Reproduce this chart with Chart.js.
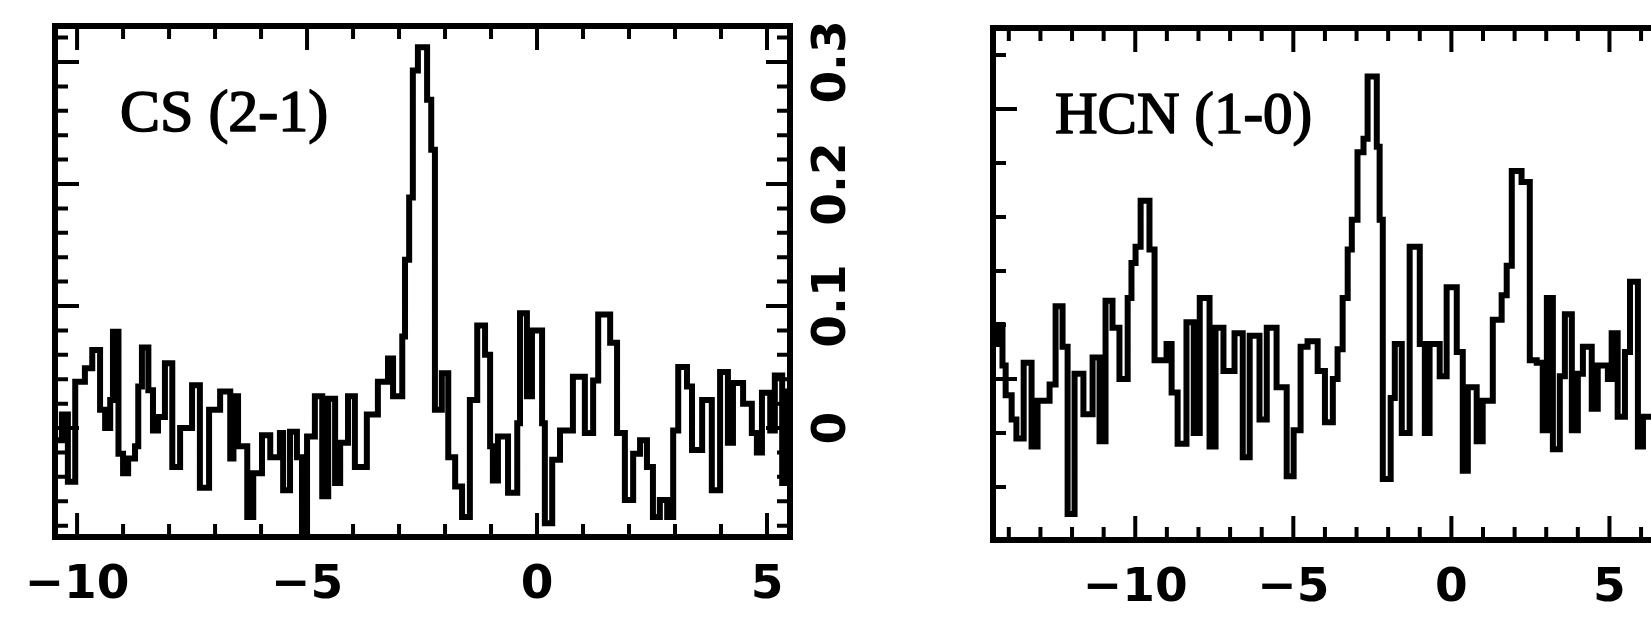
<!DOCTYPE html>
<html>
<head>
<meta charset="utf-8">
<title>CS (2-1) and HCN (1-0) spectra</title>
<script src="https://cdn.jsdelivr.net/npm/chart.js@4.4.1/dist/chart.umd.min.js"></script>
<style>
  html, body { margin: 0; padding: 0; background: #fff; overflow: hidden; }
  #wrap { position: relative; width: 1651px; height: 617px; overflow: hidden; background: #fff; }
  #wrap canvas { position: absolute; top: 0; }
  #cs { left: 0; }
  #hcn { left: 900px; }
</style>
</head>
<body>
<div id="wrap">
  <canvas id="cs" width="900" height="617"></canvas>
  <canvas id="hcn" width="920" height="617"></canvas>
</div>
<script>
// ---- CS (2-1): channel left edges (km/s) and line temperature (K) ----
const csName = 'CS (2-1)';
const csVelocity = [
  -10.48, -10.33, -10.20, -10.04, -9.83, -9.67, -9.50, -9.39, -9.28, -9.22,
  -9.10, -9.00, -8.89, -8.74, -8.67, -8.59, -8.45, -8.35, -8.24, -8.09,
  -7.93, -7.76, -7.50, -7.33, -7.13, -6.89, -6.67, -6.60, -6.50, -6.30,
  -6.17, -5.98, -5.80, -5.59, -5.52, -5.37, -5.22, -5.11, -5.00, -4.83,
  -4.67, -4.54, -4.39, -4.28, -4.11, -3.96, -3.70, -3.46, -3.24, -3.13,
  -2.93, -2.87, -2.78, -2.70, -2.59, -2.39, -2.30, -2.22, -2.07, -1.93,
  -1.78, -1.63, -1.46, -1.30, -1.13, -1.02, -0.96, -0.85, -0.63, -0.43,
  -0.37, -0.22, -0.11, 0.11, 0.17, 0.33, 0.50, 0.78, 1.04, 1.22,
  1.33, 1.59, 1.74, 1.91, 2.09, 2.24, 2.39, 2.52, 2.67, 2.83,
  2.96, 3.07, 3.26, 3.37, 3.59, 3.80, 3.98, 4.15, 4.26, 4.48,
  4.67, 4.78, 4.89, 5.07, 5.17, 5.33, 5.40, 5.46, 5.52
];
const csIntensity = [
  -0.010, 0.011, -0.044, 0.038, 0.049, 0.064, 0.015, 0.000, 0.023, 0.079,
  -0.021, -0.037, -0.025, -0.015, 0.034, 0.066, 0.031, -0.002, 0.009, 0.053,
  -0.032, 0.000, 0.035, -0.049, 0.015, 0.030, -0.025, 0.026, -0.015, -0.073,
  -0.037, -0.006, -0.024, -0.004, -0.051, -0.003, -0.024, -0.086, -0.007, 0.026,
  -0.056, 0.024, -0.045, -0.012, 0.026, -0.032, 0.011, 0.038, 0.057, 0.026,
  0.075, 0.138, 0.189, 0.293, 0.312, 0.269, 0.228, 0.015, 0.045, -0.024,
  -0.048, -0.073, 0.023, 0.084, 0.060, -0.015, -0.043, -0.007, -0.053, 0.004,
  0.094, 0.026, 0.080, 0.004, -0.078, -0.026, -0.002, 0.042, -0.004, 0.039,
  0.093, 0.070, -0.004, -0.059, -0.021, -0.010, -0.032, -0.073, -0.059, -0.073,
  -0.002, 0.050, 0.034, -0.018, 0.023, -0.051, 0.046, -0.012, 0.037, 0.020,
  -0.004, -0.020, 0.029, -0.002, 0.043, -0.045, 0.030, -0.020, -0.020
];
const csVelLabels = [-10, -5, 0, 5];
const csVelMinor = [-10, -9, -8, -7, -6, -5, -4, -3, -2, -1, 0, 1, 2, 3, 4, 5];
const csIntLabels = [0, 0.1, 0.2, 0.3];
const csIntMinor = [-0.08, -0.06, -0.04, -0.02, 0, 0.02, 0.04, 0.06, 0.08, 0.1,
  0.12, 0.14, 0.16, 0.18, 0.2, 0.22, 0.24, 0.26, 0.28, 0.3, 0.32];

// ---- HCN (1-0) ----
const hcnName = 'HCN (1-0)';
const hcnVelocity = [
  -14.50, -14.36, -14.20, -14.10, -13.91, -13.76, -13.53, -13.28, -13.09, -12.71,
  -12.52, -12.30, -12.14, -11.92, -11.64, -11.35, -11.13, -10.94, -10.72, -10.50,
  -10.24, -10.12, -9.99, -9.83, -9.55, -9.39, -9.01, -8.85, -8.66, -8.38,
  -8.15, -7.96, -7.65, -7.46, -7.21, -6.86, -6.60, -6.38, -6.07, -5.84,
  -5.53, -5.21, -4.99, -4.77, -4.55, -4.23, -4.00, -3.75, -3.60, -3.44,
  -3.28, -3.15, -2.97, -2.78, -2.65, -2.36, -2.27, -2.17, -1.92, -1.79,
  -1.57, -1.32, -1.00, -0.84, -0.69, -0.37, -0.15, 0.17, 0.36, 0.52,
  0.80, 0.99, 1.31, 1.59, 1.75, 1.91, 2.22, 2.48, 2.70, 2.89,
  3.02, 3.21, 3.43, 3.59, 3.81, 4.00, 4.16, 4.44, 4.63, 4.95,
  5.07, 5.26, 5.49, 5.65, 5.90, 6.06, 6.60
];
const hcnIntensity = [
  0.013, 0.020, 0.005, -0.006, -0.015, -0.022, 0.006, -0.025, -0.008, -0.002,
  0.027, 0.012, -0.050, 0.002, -0.013, 0.008, -0.023, 0.029, 0.019, 0.000,
  0.030, 0.043, 0.049, 0.066, 0.048, 0.007, 0.013, -0.005, -0.024, 0.021,
  -0.020, 0.030, -0.025, 0.019, 0.003, 0.017, -0.029, 0.016, -0.015, 0.019,
  -0.003, -0.036, -0.019, 0.012, 0.014, 0.003, -0.016, 0.000, 0.011, 0.030,
  0.048, 0.059, 0.084, 0.089, 0.112, 0.086, 0.059, -0.037, -0.007, 0.013,
  -0.020, 0.049, 0.013, -0.020, 0.013, 0.001, 0.034, 0.010, -0.034, -0.003,
  -0.023, -0.008, 0.022, 0.031, 0.042, 0.077, 0.073, 0.007, 0.006, -0.019,
  0.030, -0.026, 0.001, 0.024, -0.019, 0.002, 0.012, -0.011, 0.005, 0.000,
  0.017, -0.014, 0.010, 0.036, -0.025, -0.014, -0.014
];
const hcnVelLabels = [-10, -5, 0, 5];
const hcnVelMinor = [-14, -13, -12, -11, -10, -9, -8, -7, -6, -5, -4, -3, -2, -1,
  0, 1, 2, 3, 4, 5, 6, 7, 8];
const hcnIntLabels = [0, 0.1];
const hcnIntMinor = [-0.04, -0.02, 0, 0.02, 0.04, 0.06, 0.08, 0.1, 0.12];

const tickFont = { family: '"DejaVu Sans"', weight: 'bold', size: 47 };

function signed(v) {
  return v < 0 ? '\u2212' + Math.abs(v) : String(v);
}
function decimal(v) {
  return v === 0 ? '0' : v.toFixed(1);
}

// fixed axis boxes so the plotting frame lands where it should
function fixedBox(size) {
  return s => {
    if (s.isHorizontal()) s.height = size; else s.width = size;
    s.paddingLeft = 0; s.paddingRight = 0; s.paddingTop = 0; s.paddingBottom = 0;
  };
}

// heavy box with inward ticks on all four sides
function frameTicks(xMinor, xMajor, yMinor, yMajor) {
  return {
    id: 'frameTicks',
    afterDatasetsDraw(chart) {
      const { ctx, chartArea: a } = chart;
      const xs = chart.scales.x, ys = chart.scales.y;
      ctx.save();
      ctx.strokeStyle = '#000';
      ctx.lineCap = 'butt';
      ctx.lineWidth = 4;
      ctx.beginPath();
      xMinor.forEach(v => {
        const p = xs.getPixelForValue(v);
        const l = xMajor.includes(v) ? 24 : 13;
        ctx.moveTo(p, a.bottom); ctx.lineTo(p, a.bottom - l);
        ctx.moveTo(p, a.top); ctx.lineTo(p, a.top + l);
      });
      yMinor.forEach(v => {
        const p = ys.getPixelForValue(v);
        const l = yMajor.includes(v) ? 24 : 13;
        ctx.moveTo(a.left, p); ctx.lineTo(a.left + l, p);
        ctx.moveTo(a.right, p); ctx.lineTo(a.right - l, p);
      });
      ctx.stroke();
      ctx.lineWidth = 6;
      ctx.strokeRect(a.left, a.top, a.right - a.left, a.bottom - a.top);
      ctx.restore();
    }
  };
}

// transition name written inside the frame
function lineName(text, dx, dy, size) {
  return {
    id: 'lineName',
    afterDatasetsDraw(chart) {
      const { ctx, chartArea: a } = chart;
      ctx.save();
      ctx.font = size + 'px "Liberation Serif"';
      ctx.fillStyle = '#000';
      ctx.strokeStyle = '#000';
      ctx.lineWidth = 1.6;
      ctx.lineJoin = 'round';
      ctx.textAlign = 'left';
      ctx.textBaseline = 'alphabetic';
      ctx.fillText(text, a.left + dx, a.top + dy);
      ctx.strokeText(text, a.left + dx, a.top + dy);
      ctx.restore();
    }
  };
}

function spectrum(canvasId, cfg) {
  const pts = cfg.vel.map((v, i) => ({ x: v, y: cfg.temp[i] }));
  return new Chart(document.getElementById(canvasId), {
    type: 'line',
    data: {
      datasets: [{
        data: pts,
        stepped: 'before',
        borderColor: '#000',
        borderWidth: 6,
        pointRadius: 0,
        fill: false,
        borderJoinStyle: 'miter',
        borderCapStyle: 'butt'
      }]
    },
    options: {
      responsive: false,
      animation: false,
      devicePixelRatio: 1,
      events: [],
      layout: { padding: { left: cfg.padLeft, top: cfg.padTop, right: 0, bottom: 0 } },
      plugins: { legend: { display: false }, tooltip: { enabled: false }, title: { display: false } },
      scales: {
        x: {
          type: 'linear',
          position: 'bottom',
          min: cfg.xMin,
          max: cfg.xMax,
          afterBuildTicks: s => { s.ticks = cfg.xLabels.map(v => ({ value: v })); },
          afterFit: fixedBox(cfg.xBox),
          grid: { display: false, drawTicks: false },
          border: { display: false },
          ticks: {
            font: tickFont, color: '#000', padding: 21,
            minRotation: 0, maxRotation: 0, autoSkip: false,
            callback: v => signed(v)
          }
        },
        y: {
          type: 'linear',
          position: 'right',
          min: cfg.yMin,
          max: cfg.yMax,
          afterBuildTicks: s => { s.ticks = cfg.yLabels.map(v => ({ value: v })); },
          afterFit: fixedBox(cfg.yBox),
          grid: { display: false, drawTicks: false },
          border: { display: false },
          ticks: {
            font: tickFont, color: '#000', padding: 1,
            minRotation: 90, maxRotation: 90, crossAlign: 'center', autoSkip: false,
            callback: v => decimal(v)
          }
        }
      }
    },
    plugins: [
      frameTicks(cfg.xMinor, cfg.xLabels, cfg.yMinor, cfg.yLabels),
      lineName(cfg.name, cfg.nameDx, cfg.nameDy, cfg.nameSize)
    ]
  });
}

spectrum('cs', {
  name: csName, vel: csVelocity, temp: csIntensity,
  xMin: -10.48, xMax: 5.5, yMin: -0.0893, yMax: 0.3295,
  xLabels: csVelLabels, xMinor: csVelMinor, yLabels: csIntLabels, yMinor: csIntMinor,
  padLeft: 55, padTop: 26, xBox: 80, yBox: 110,
  nameDx: 65, nameDy: 105, nameSize: 60
});

spectrum('hcn', {
  name: hcnName, vel: hcnVelocity, temp: hcnIntensity,
  xMin: -14.5, xMax: 8.75, yMin: -0.0596, yMax: 0.13,
  xLabels: hcnVelLabels, xMinor: hcnVelMinor, yLabels: hcnIntLabels, yMinor: hcnIntMinor,
  padLeft: 93, padTop: 28, xBox: 77, yBox: 92,
  nameDx: 62, nameDy: 105, nameSize: 59
});
</script>
</body>
</html>
